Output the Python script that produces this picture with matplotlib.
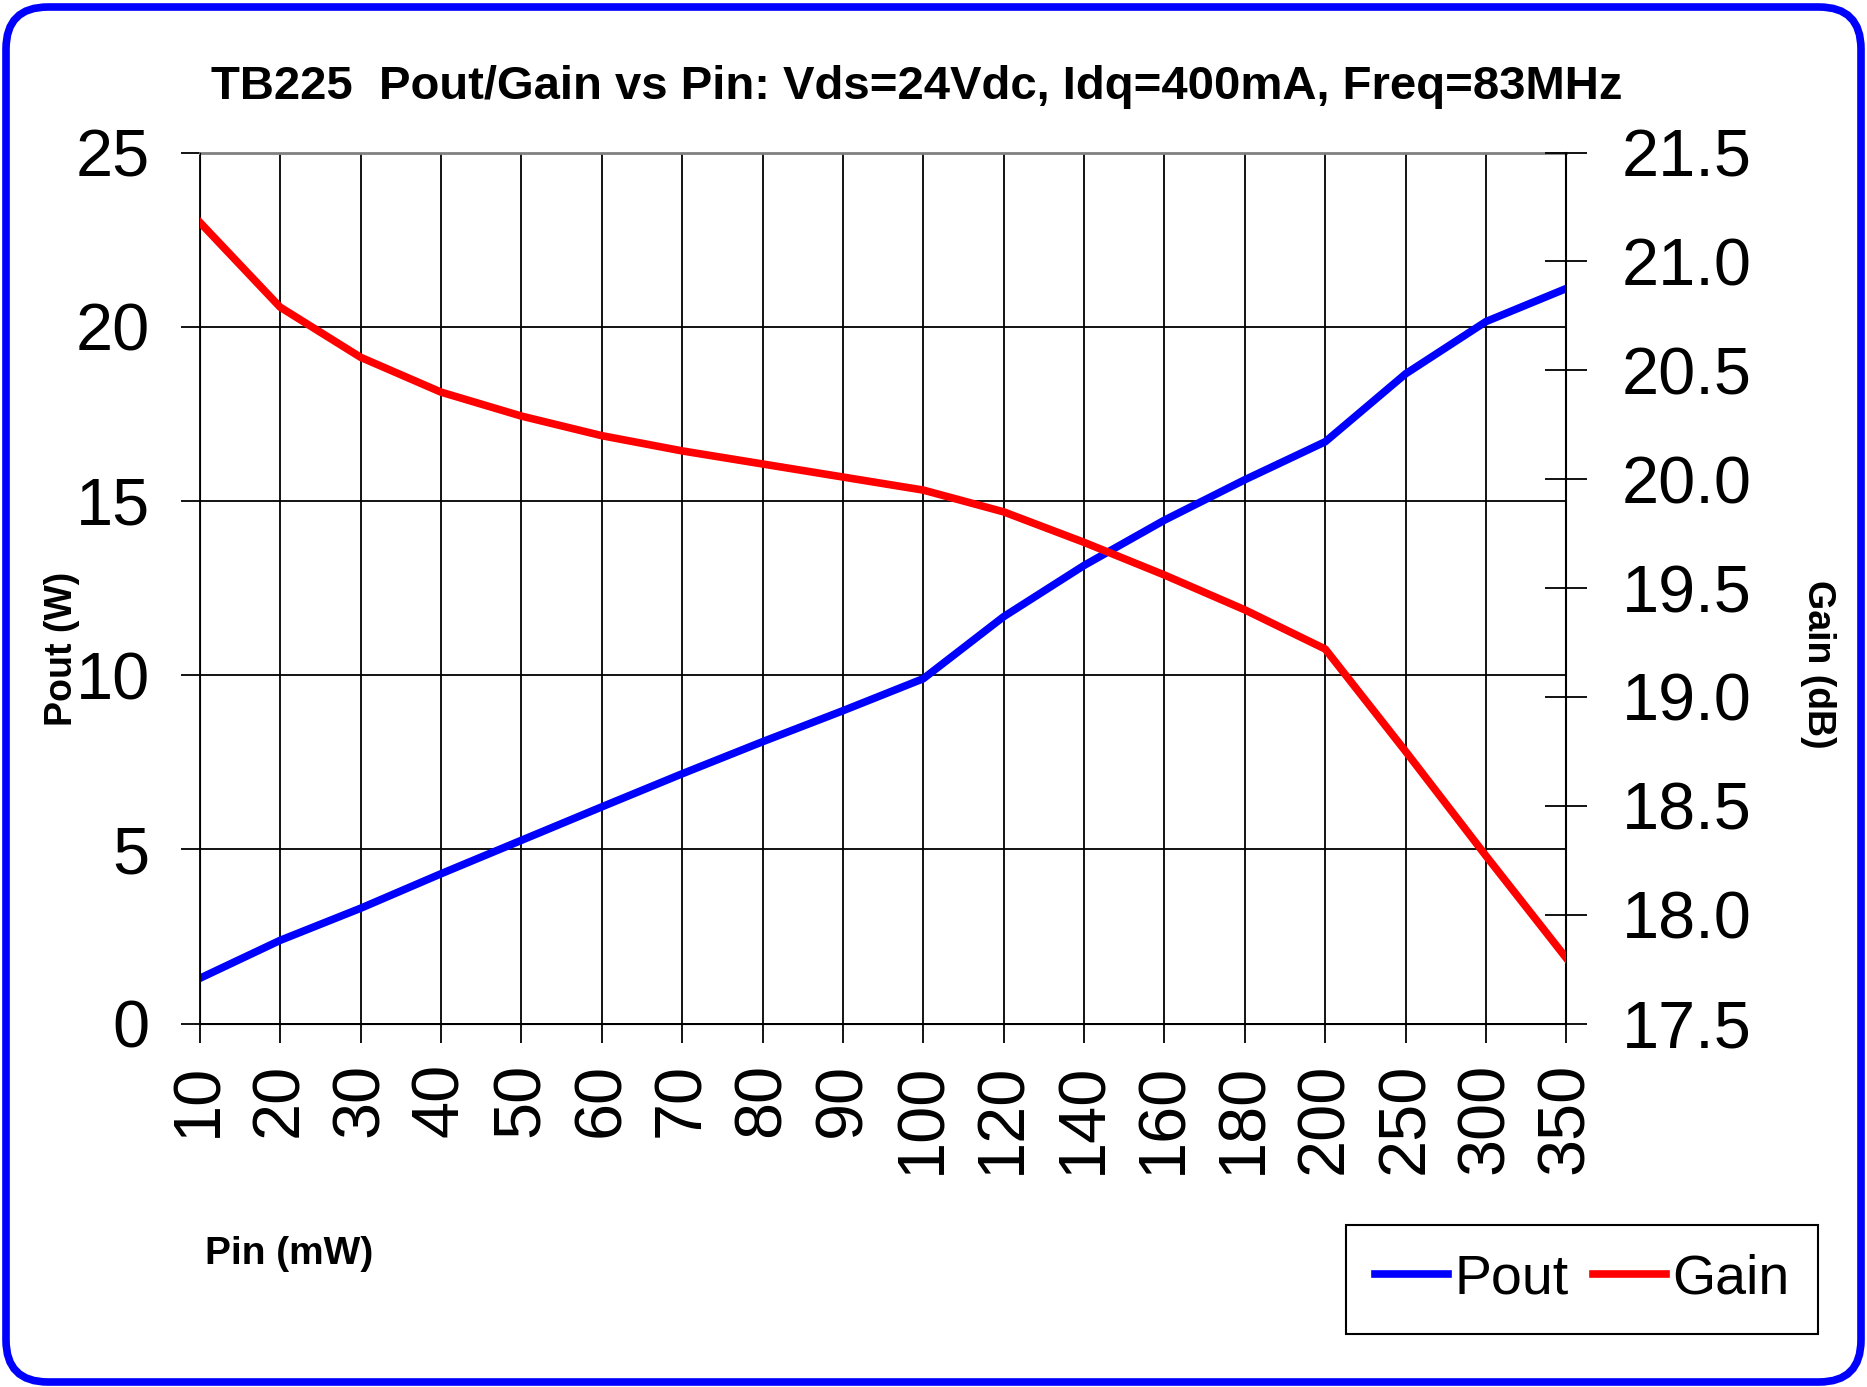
import numpy as np
import matplotlib
matplotlib.use('Agg')
import matplotlib.pyplot as plt
from matplotlib.patches import FancyBboxPatch
from matplotlib.transforms import IdentityTransform
from matplotlib.ticker import FormatStrFormatter

plt.rcParams['font.family'] = ['Liberation Sans', 'DejaVu Sans']

# Pin categories (mW)
pin_labels = ['10', '20', '30', '40', '50', '60', '70', '80', '90', '100',
              '120', '140', '160', '180', '200', '250', '300', '350']
# output power (W)
pout = [1.30, 2.39, 3.31, 4.30, 5.26, 6.22, 7.17, 8.09, 8.98, 9.90,
        11.68, 13.15, 14.45, 15.61, 16.70, 18.65, 20.15, 21.10]
# gain (dB)
gain = [21.18, 20.79, 20.56, 20.40, 20.29, 20.20, 20.13, 20.07, 20.01, 19.95,
        19.85, 19.71, 19.56, 19.40, 19.22, 18.75, 18.27, 17.80]

title = 'TB225  Pout/Gain vs Pin: Vds=24Vdc, Idq=400mA, Freq=83MHz'


def main():
    fig = plt.figure(figsize=(18.67, 13.87), dpi=100)
    axe = fig.add_axes([0.107, 0.262, 0.732, 0.628])
    x = np.arange(len(pin_labels))

    ''' left axis: Pout '''
    l1, = axe.plot(x, pout, color='#0000ff', lw=5.5, label='Pout', zorder=3)
    axe.set_xlim(0, len(pin_labels) - 1)
    axe.set_ylim(0, 25)
    axe.set_yticks([0, 5, 10, 15, 20, 25])
    axe.set_xticks(x)
    axe.set_xticklabels(pin_labels, rotation=90)
    axe.grid(True, color='k', lw=1.3)
    axe.set_axisbelow(True)
    axe.tick_params(axis='y', direction='out', length=14, width=1.3, pad=22, labelsize=48)
    axe.tick_params(axis='x', direction='out', length=14, width=1.3, pad=14, labelsize=48)
    axe.spines['top'].set_color('#808080')
    axe.spines['top'].set_linewidth(2)
    for s in ['left', 'bottom', 'right']:
        axe.spines[s].set_linewidth(1.3)

    ''' right axis: Gain '''
    ax2 = axe.twinx()
    l2, = ax2.plot(x, gain, color='#ff0000', lw=5.5, label='Gain', zorder=3)
    ax2.set_ylim(17.5, 21.5)
    ax2.set_yticks(np.arange(17.5, 21.51, 0.5))
    ax2.yaxis.set_major_formatter(FormatStrFormatter('%.1f'))
    ax2.tick_params(axis='y', direction='inout', length=30, width=1.3, pad=25, labelsize=48)
    ax2.spines['top'].set_visible(False)
    ax2.spines['right'].set_linewidth(1.5)

    fig.text(0.491, 0.937, title, ha='center', va='center', fontsize=34, fontweight='bold')
    fig.text(0.033, 0.532, 'Pout (W)', ha='center', va='center', rotation=90,
             fontsize=27, fontweight='bold')
    fig.text(0.974, 0.521, 'Gain (dB)', ha='center', va='center', rotation=-90,
             fontsize=27, fontweight='bold')
    fig.text(0.110, 0.096, 'Pin (mW)', ha='left', va='center', fontsize=28, fontweight='bold')

    leg = fig.legend(handles=[l1, l2], loc='lower right', bbox_to_anchor=(0.974, 0.038),
                     ncol=2, fontsize=40, frameon=True, fancybox=False, framealpha=1,
                     edgecolor='k', handlelength=1.3, handletextpad=0.12,
                     columnspacing=0.45, borderpad=0.52, borderaxespad=0)
    leg.get_frame().set_linewidth(1.5)

    ''' blue rounded border '''
    w, h = fig.get_size_inches() * fig.dpi
    border = FancyBboxPatch((6, 5), w - 12, h - 12,
                            boxstyle='round,pad=0,rounding_size=42',
                            transform=IdentityTransform(), fill=False,
                            edgecolor='#0000ff', lw=5.5)
    fig.add_artist(border)

    fig.savefig('out.png', dpi=100)


if __name__ == '__main__':
    main()
